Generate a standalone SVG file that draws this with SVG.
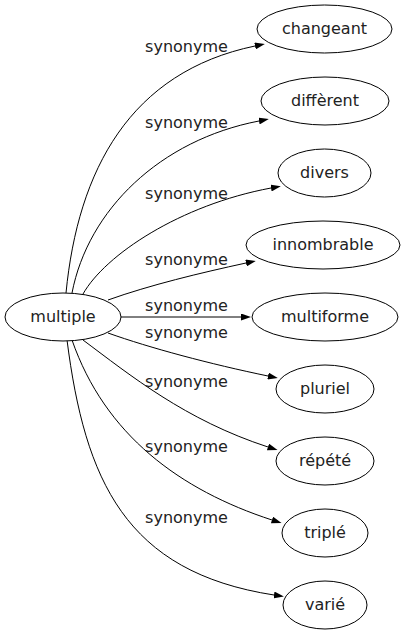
<svg xmlns="http://www.w3.org/2000/svg" width="410" height="635" viewBox="0 0 410 635">
<defs>
<marker id="ah" markerWidth="10" markerHeight="7" refX="0" refY="3.5" orient="auto" markerUnits="userSpaceOnUse">
<path d="M0,0 L10,3.5 L0,7 z" fill="#000"/>
</marker>
<style>
.n ellipse{fill:#fff;stroke:#000;stroke-width:1}
text{font-family:"DejaVu Sans",sans-serif;font-size:16px;fill:#222;text-anchor:middle}
.e path{fill:none;stroke:#000;stroke-width:1;marker-end:url(#ah)}
</style>
</defs>
<rect width="410" height="635" fill="#fff"/>
<g id="edges" class="e">
<path d="M66,293 C78,170 130,72 255,46"/>
<path d="M72,293 C88,210 160,140 259,121"/>
<path d="M83,294 C105,255 180,205 271,188"/>
<path d="M108,300 C150,285 200,273 246,263"/>
<path d="M121,317 L241,317"/>
<path d="M108,333 C150,348 210,364 268,376"/>
<path d="M83,340 C130,375 185,420 268,447"/>
<path d="M72,340 C105,435 180,490 272,520"/>
<path d="M67,340 C85,480 125,572 274,595"/>
</g>
<g id="edge-labels">
<text x="186.5" y="52">synonyme</text>
<text x="186.5" y="128">synonyme</text>
<text x="186.5" y="199">synonyme</text>
<text x="186.5" y="265">synonyme</text>
<text x="186.5" y="311">synonyme</text>
<text x="186.5" y="338">synonyme</text>
<text x="186.5" y="387">synonyme</text>
<text x="186.5" y="452">synonyme</text>
<text x="186.5" y="523">synonyme</text>
</g>
<g id="multiple" class="n"><ellipse cx="63" cy="317" rx="58" ry="24"/><text x="63" y="322">multiple</text></g>
<g id="changeant" class="n"><ellipse cx="324.5" cy="29" rx="67.5" ry="24"/><text x="324.5" y="34">changeant</text></g>
<g id="different" class="n"><ellipse cx="325" cy="101" rx="64" ry="24"/><text x="325" y="106">diffèrent</text></g>
<g id="divers" class="n"><ellipse cx="324.5" cy="173" rx="46.5" ry="24"/><text x="324.5" y="178">divers</text></g>
<g id="innombrable" class="n"><ellipse cx="323" cy="245" rx="77" ry="24"/><text x="323" y="250">innombrable</text></g>
<g id="multiforme" class="n"><ellipse cx="325" cy="317" rx="73" ry="24"/><text x="325" y="322">multiforme</text></g>
<g id="pluriel" class="n"><ellipse cx="325" cy="389" rx="49" ry="24"/><text x="325" y="394">pluriel</text></g>
<g id="repete" class="n"><ellipse cx="325" cy="461" rx="49" ry="24"/><text x="325" y="466">répété</text></g>
<g id="triple" class="n"><ellipse cx="325" cy="533" rx="43" ry="24"/><text x="325" y="538">triplé</text></g>
<g id="varie" class="n"><ellipse cx="325" cy="605" rx="42" ry="24"/><text x="325" y="610">varié</text></g>
</svg>
